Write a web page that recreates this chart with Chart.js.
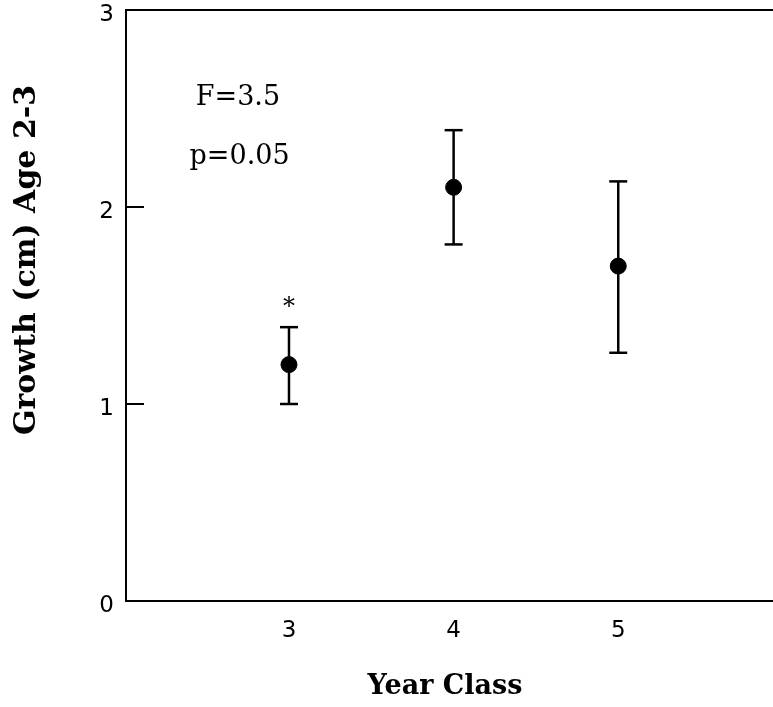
<!DOCTYPE html>
<html>
<head>
<meta charset="utf-8">
<script src="https://cdn.jsdelivr.net/npm/chart.js@4.4.1/dist/chart.umd.min.js"></script>
<style>
  html, body { margin: 0; padding: 0; background: #fff; }
  #wrap { width: 773px; height: 707px; }
</style>
</head>
<body>
<div id="wrap"><canvas id="growthChart"></canvas></div>
<script>
// growth between age 2 and 3, by year class
var yearClass = [3, 4, 5];
var meanGrowth = [1.2, 2.1, 1.7];
var upperBar = [1.39, 2.39, 2.13];
var lowerBar = [1.0, 1.81, 1.26];
var yTicks = [0, 1, 2, 3];
var starred = [3];

var statLines = ['F=3.5', 'p=0.05'];

var serif = '"DejaVu Serif", "Liberation Serif", serif';
var sans = '"DejaVu Sans", "Liberation Sans", sans-serif';

// one little line dataset per error bar, caps drawn as 'line' points
var whiskers = yearClass.map(function (yc, i) {
  return {
    type: 'line',
    data: [{ x: yc, y: lowerBar[i] }, { x: yc, y: upperBar[i] }],
    showLine: true,
    borderColor: '#000',
    borderWidth: 2.5,
    pointStyle: 'line',
    pointRadius: 9,
    pointBorderWidth: 2.5,
    pointBorderColor: '#000',
    order: 2
  };
});

var means = {
  type: 'scatter',
  data: yearClass.map(function (yc, i) { return { x: yc, y: meanGrowth[i] }; }),
  pointRadius: 8,
  pointBackgroundColor: '#000',
  pointBorderColor: '#000',
  order: 1
};

// extra bits: top frame line, inward ticks, titles, notes
var extras = {
  id: 'extras',
  afterDraw: function (chart) {
    var ctx = chart.ctx;
    var xs = chart.scales.x, ys = chart.scales.y;
    var area = chart.chartArea;
    ctx.save();
    ctx.strokeStyle = '#000';
    ctx.lineWidth = 2;

    ctx.beginPath();
    ctx.moveTo(area.left - 1, area.top);
    ctx.lineTo(chart.width, area.top);
    ctx.stroke();

    yTicks.forEach(function (v) {
      var py = Math.round(ys.getPixelForValue(v));
      ctx.beginPath();
      ctx.moveTo(area.left, py);
      ctx.lineTo(area.left + 18, py);
      ctx.stroke();
    });

    ctx.fillStyle = '#000';
    ctx.textAlign = 'center';

    // significance star over the bar
    ctx.font = '24px ' + serif;
    ctx.textBaseline = 'middle';
    starred.forEach(function (yc) {
      var i = yearClass.indexOf(yc);
      ctx.fillText('*', xs.getPixelForValue(yc), ys.getPixelForValue(upperBar[i]) - 19);
    });

    // ANOVA result
    ctx.font = '27px ' + serif;
    ctx.textBaseline = 'alphabetic';
    ctx.fillText(statLines[0], xs.getPixelForValue(2.69), ys.getPixelForValue(2.52));
    ctx.fillText(statLines[1], xs.getPixelForValue(2.70), ys.getPixelForValue(2.22));

    // axis titles
    ctx.font = 'bold 27px ' + serif;
    ctx.fillText('Year Class', 445, 694);

    ctx.font = 'bold 30px ' + serif;
    ctx.translate(35, 260);
    ctx.rotate(-Math.PI / 2);
    ctx.fillText('Growth (cm) Age 2-3', 0, 0);
    ctx.restore();
  }
};

new Chart(document.getElementById('growthChart'), {
  data: { datasets: whiskers.concat([means]) },
  plugins: [extras],
  options: {
    responsive: true,
    maintainAspectRatio: false,
    animation: false,
    layout: { autoPadding: false, padding: { top: 10, right: 0, left: 0, bottom: 0 } },
    plugins: { legend: { display: false }, tooltip: { enabled: false } },
    scales: {
      x: {
        type: 'linear',
        min: 2.01,
        max: 5.94,
        afterBuildTicks: function (scale) {
          scale.ticks = yearClass.map(function (v) { return { value: v }; });
        },
        afterFit: function (scale) {
          scale.height = 106;
          scale.paddingLeft = 0;
          scale.paddingRight = 0;
        },
        grid: { display: false, drawTicks: false },
        border: { color: '#000', width: 2 },
        ticks: { color: '#000', font: { family: sans, size: 23 }, padding: 16 }
      },
      y: {
        min: 0,
        max: 3,
        afterBuildTicks: function (scale) {
          scale.ticks = yTicks.map(function (v) { return { value: v }; });
        },
        afterFit: function (scale) {
          scale.width = 126;
          scale.paddingTop = 0;
          scale.paddingBottom = 0;
        },
        grid: { display: false, drawTicks: false },
        border: { color: '#000', width: 2 },
        ticks: { color: '#000', font: { family: sans, size: 23 }, padding: 12, labelOffset: 5 }
      }
    }
  }
});
</script>
</body>
</html>
